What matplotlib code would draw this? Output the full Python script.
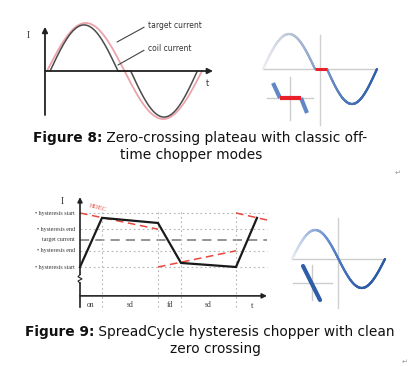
import matplotlib
matplotlib.use('Agg')
import matplotlib.pyplot as plt
import numpy as np
from matplotlib.collections import LineCollection
from matplotlib.colors import LinearSegmentedColormap

W, H = 410, 366

# ---- Figure 8 left: target vs coil current (t in periods, I in target amplitudes)
target_amp = 1.0
target_period = 1.0
coil_amp = 0.96
coil_pos = (0.02, 0.458)   # positive half wave, start / end
coil_neg = (0.54, 0.97)    # negative half wave, start / end

# ---- Figure 8 right: sine with zero crossing plateau (t in half periods)
rise8 = (0.0, 1.02)
flat8 = (1.02, 1.255)
fall8 = (1.255, 2.235)
# inset: zoom on the crossing
inset8_in_t = [-17, -10]
inset8_in_i = [15, 0]
inset8_flat_t = [-10, 11]
inset8_out_t = [11, 17]
inset8_out_i = [0, -15]

# ---- Figure 9 left: SpreadCycle chopper phases
level_vals = [1.0, 0.4, 0.0, -0.4, -1.0]
level_names = ['• hysteresis start', '• hysteresis end', 'target current',
               '• hysteresis end', '• hysteresis start']
coil_t = [0, 22, 78, 101, 156, 177]
coil_i = [-1.0, 0.82, 0.63, -0.85, -1.0, 0.82]
hdec_t = [[0, 78], [78, 156], [156, 187]]
hdec_i = [[1.0, 0.4], [-1.0, -0.4], [1.0, 0.74]]
phase_edges = [0, 22, 78, 101, 156]
phase_names = ['on', 'sd', 'fd', 'sd']

# ---- Figure 9 right: clean sine (t in half periods)
clean9 = (0.0, 2.0)
inset9_t = [-9, 8]
inset9_i = [17, -17]

fig = plt.figure(figsize=(W / 100, H / 100), dpi=100)
fig.patch.set_facecolor('white')


def panel(px0, py0, px1, py1, ox, oy, sx, sy):
    # box in image pixels, data t = (px-ox)/sx, I = (oy-py)/sy
    ax = fig.add_axes([px0 / W, 1 - py1 / H, (px1 - px0) / W, (py1 - py0) / H])
    ax.set_xlim((px0 - ox) / sx, (px1 - ox) / sx)
    ax.set_ylim((oy - py1) / sy, (oy - py0) / sy)
    ax.axis('off')
    return ax


def arrow(ax, start, tip, lw=1.3, ms=8):
    ax.annotate('', xy=tip, xytext=start,
                arrowprops=dict(arrowstyle='-|>', color='#222222', lw=lw,
                                mutation_scale=ms, shrinkA=0, shrinkB=0))


def gradient_line(ax, t, i, cmap, tmax, lw=1.6):
    pts = np.column_stack([t, i]).reshape(-1, 1, 2)
    segs = np.concatenate([pts[:-1], pts[1:]], axis=1)
    lc = LineCollection(segs, colors=cmap(t[:-1] / tmax), linewidths=lw,
                        capstyle='round', clip_on=False)
    ax.add_collection(lc)


# ================= Figure 8 left
axA = panel(20, 10, 230, 125, 47, 71, 155, 48)
arrow(axA, (-0.013, -0.917), (-0.013, 0.92))
arrow(axA, (-0.013, 0), (1.071, 0))
t = np.linspace(0, target_period, 300)
axA.plot(t, target_amp * np.sin(2 * np.pi * t / target_period),
         color='#eba3aa', lw=1.3, clip_on=False)
tp = np.linspace(coil_pos[0], coil_pos[1], 150)
tn = np.linspace(coil_neg[0], coil_neg[1], 150)
ct = np.concatenate([tp, tn])
ci = np.concatenate([
    coil_amp * np.sin(np.pi * (tp - coil_pos[0]) / (coil_pos[1] - coil_pos[0])),
    -coil_amp * np.sin(np.pi * (tn - coil_neg[0]) / (coil_neg[1] - coil_neg[0]))])
axA.plot(ct, ci, color='#4a4a4a', lw=1.1, clip_on=False)
axA.text(-0.123, 0.73, 'I', size=7, family='Liberation Serif', color='#333333',
         ha='center', va='center')
axA.text(1.035, -0.25, 't', size=6, color='#333333', ha='center', va='center')
axA.annotate('target current', xy=(0.452, 0.604), xytext=(0.652, 0.958),
             size=5.5, color='#333333', va='center', ha='left',
             arrowprops=dict(arrowstyle='-', color='#444444', lw=0.8,
                             relpos=(0, 0.5), shrinkA=1, shrinkB=0))
axA.annotate('coil current', xy=(0.458, 0.125), xytext=(0.652, 0.479),
             size=5.5, color='#333333', va='center', ha='left',
             arrowprops=dict(arrowstyle='-', color='#444444', lw=0.8,
                             relpos=(0, 0.5), shrinkA=1, shrinkB=0))

# ================= Figure 8 right
cmapB = LinearSegmentedColormap.from_list(
    'b8', ['#eceef2', '#b9c4d8', '#7f9bc8', '#4a76b8', '#2f5ea8'])
axB = panel(255, 20, 390, 128, 263, 69, 51, 35)
axB.plot([rise8[0], fall8[1]], [0, 0], color='#cccccc', lw=1)
axB.plot([1.118, 1.118], [0.97, -1.6], color='#d0d0d0', lw=1)
t1 = np.linspace(*rise8, 150)
t3 = np.linspace(*fall8, 150)
gradient_line(axB, t1, np.sin(np.pi * (t1 - rise8[0]) / (rise8[1] - rise8[0])),
              cmapB, fall8[1])
gradient_line(axB, t3, -np.sin(np.pi * (t3 - fall8[0]) / (fall8[1] - fall8[0])),
              cmapB, fall8[1])
axB.plot(flat8, [0, 0], color='#e8202a', lw=2.2, solid_capstyle='butt')

axBi = panel(262, 72, 318, 124, 290, 98, 1, 1)
axBi.plot([-23, 23], [0, 0], color='#cccccc', lw=1)
axBi.plot([0, 0], [21, -22], color='#cccccc', lw=1)
axBi.plot(inset8_in_t, inset8_in_i, color='#6088c6', lw=3, solid_capstyle='butt')
axBi.plot(inset8_out_t, inset8_out_i, color='#6088c6', lw=3, solid_capstyle='butt')
axBi.plot(inset8_flat_t, [0, 0], color='#e8202a', lw=3, solid_capstyle='butt')

# ================= Figure 9 left
axC = panel(0, 190, 275, 316, 80, 240, 1, 27)
for v, name in zip(level_vals, level_names):
    if v == 0:
        axC.plot([0, 187], [v, v], color='#777777', lw=1.1, ls=(0, (6, 4)))
    else:
        axC.plot([0, 187], [v, v], color='#b5b5b5', lw=0.8, ls=(0, (1.5, 2.5)))
    axC.text(-5, v, name, ha='right', va='center', size=4.3,
             family='Liberation Serif', color='#333333')
for e in phase_edges[1:]:
    axC.plot([e, e], [1.05, -2.6], color='#b5b5b5', lw=0.8, ls=(0, (1.5, 2.5)))
for tt, ii in zip(hdec_t, hdec_i):
    axC.plot(tt, ii, color='#e8473d', lw=1.1, ls=(0, (5, 3)))
axC.plot(coil_t, coil_i, color='#1a1a1a', lw=1.6, solid_joinstyle='miter')
# vertical axis with break
axC.plot([0, 0], [-2.48, -1.6], color='#222222', lw=1.2)
axC.plot([0, -2, 2, -2, 0], [-1.6, -1.52, -1.44, -1.36, -1.28], color='#222222', lw=0.8)
arrow(axC, (0, -1.28), (0, 1.59), lw=1.2, ms=7)
arrow(axC, (0, -2.07), (187, -2.07), lw=1.2, ms=7)
mids = [(a + b) / 2 for a, b in zip(phase_edges[:-1], phase_edges[1:])]
for m, name in zip(mids, phase_names):
    axC.text(m, -2.41, name, ha='center', va='center', size=5.5,
             family='Liberation Serif', color='#333333')
axC.text(172, -2.44, 't', ha='center', va='center', size=6,
         family='Liberation Serif', color='#333333')
axC.text(-18, 1.41, 'I', ha='center', va='center', size=7,
         family='Liberation Serif', color='#333333')
axC.text(18, 1.2, 'HDEC', ha='center', va='center', size=4.8, rotation=-14,
         family='Liberation Serif', color='#e8473d')

# ================= Figure 9 right
cmapD = LinearSegmentedColormap.from_list(
    'b9', ['#e8ecf4', '#8fabdc', '#4c78c0', '#2f5ea8', '#2c5aa4'])
axD = panel(285, 210, 392, 312, 292, 259, 46.5, 29)
axD.plot(list(clean9), [0, 0], color='#cccccc', lw=1)
axD.plot([1, 1], [1.41, -1.69], color='#d0d0d0', lw=1)
t9 = np.linspace(*clean9, 300)
gradient_line(axD, t9, np.sin(np.pi * t9), cmapD, clean9[1])

axDi = panel(288, 262, 336, 304, 312, 283, 1, 1)
axDi.plot([-19, 20], [0, 0], color='#cccccc', lw=1)
axDi.plot([0, 0], [18, -17], color='#cccccc', lw=1)
axDi.plot(inset9_t, inset9_i, color='#2f5ea8', lw=3, solid_capstyle='round')

# ================= captions
renderer = fig.canvas.get_renderer()


def caption(py, bold, rest, cx, size=9.9):
    tb = fig.text(0, 1 - py / H, bold, weight='bold', size=size, va='center',
                  color='#111111')
    tr = fig.text(0, 1 - py / H, rest, size=size, va='center', color='#111111')
    wb = tb.get_window_extent(renderer).width if bold else 0
    wr = tr.get_window_extent(renderer).width
    x0 = cx - (wb + wr) / 2
    tb.set_x(x0 / W)
    tr.set_x((x0 + wb) / W)


caption(138, 'Figure 8:', ' Zero-crossing plateau with classic off-', 200)
caption(155, '', 'time chopper modes', 191)
caption(332, 'Figure 9:', ' SpreadCycle hysteresis chopper with clean', 210)
caption(349, '', 'zero crossing', 215)
fig.text(398 / W, 1 - 173 / H, '↵', size=5, color='#999999', ha='center', va='center')
fig.text(405 / W, 1 - 362 / H, '↵', size=5, color='#999999', ha='center', va='center')

fig.savefig('out.png', dpi=100)
